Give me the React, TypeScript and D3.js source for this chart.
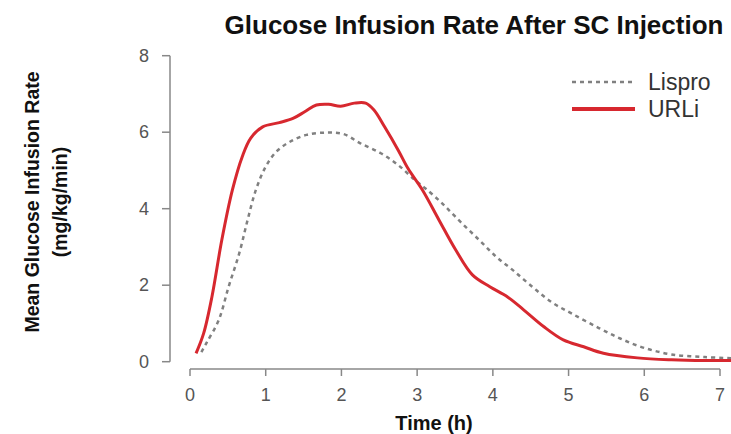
import React, { useEffect, useRef } from 'react';
import * as d3 from 'd3';

// values (time in h, GIR in mg/kg/min)
const urliTime = [0.08, 0.18, 0.29, 0.42, 0.56, 0.69, 0.8, 0.96, 1.18, 1.36, 1.52, 1.67, 1.83, 1.99, 2.17, 2.32, 2.43, 2.57, 2.75, 2.88, 3.07, 3.29, 3.51, 3.73, 3.96, 4.19, 4.41, 4.67, 4.93, 5.2, 5.46, 5.91, 6.36, 6.8, 7.2];
const urliRate = [0.22, 0.74, 1.7, 3.18, 4.49, 5.36, 5.84, 6.14, 6.25, 6.36, 6.54, 6.71, 6.73, 6.68, 6.76, 6.76, 6.58, 6.14, 5.53, 5.05, 4.49, 3.7, 2.92, 2.27, 1.96, 1.7, 1.35, 0.92, 0.57, 0.39, 0.22, 0.1, 0.05, 0.03, 0.03];

const lisproTime = [0.15, 0.22, 0.38, 0.51, 0.65, 0.76, 0.87, 1.0, 1.14, 1.32, 1.54, 1.81, 2.03, 2.25, 2.52, 2.75, 2.97, 3.11, 3.33, 3.57, 3.82, 4.04, 4.26, 4.52, 4.78, 5.05, 5.4, 5.69, 6.0, 6.36, 6.8, 7.2];
const lisproRate = [0.25, 0.5, 1.09, 1.96, 2.83, 3.7, 4.49, 5.1, 5.49, 5.75, 5.93, 5.99, 5.95, 5.71, 5.45, 5.14, 4.75, 4.53, 4.14, 3.66, 3.18, 2.75, 2.4, 1.96, 1.55, 1.25, 0.88, 0.6, 0.36, 0.19, 0.12, 0.09];

const xTicks = [0, 1, 2, 3, 4, 5, 6, 7];
const yTicks = [0, 2, 4, 6, 8];
const seriesNames = ['Lispro', 'URLi'];

const RED = '#d7282f';
const GREY = '#808080';
const FONT = '"Liberation Sans", Arial, sans-serif';

const GirChart = () => {
  const ref = useRef<SVGSVGElement>(null);

  useEffect(() => {
    const svg = d3.select(ref.current);
    svg.selectAll('*').remove();

    const x = d3.scaleLinear().domain([0, 7]).range([190, 720]);
    const y = d3.scaleLinear().domain([0, 8]).range([361.7, 55.7]);

    // title
    svg.append('text')
      .attr('x', 474).attr('y', 34)
      .attr('text-anchor', 'middle')
      .attr('font-family', FONT).attr('font-weight', 'bold').attr('font-size', 26)
      .attr('fill', '#111')
      .text('Glucose Infusion Rate After SC Injection');

    // y axis (R style, detached)
    const yAxis = svg.append('g').attr('stroke', '#888').attr('stroke-width', 1.5);
    yAxis.append('line').attr('x1', 170).attr('x2', 170).attr('y1', y(0)).attr('y2', y(8));
    yAxis.selectAll('line.tick').data(yTicks).enter().append('line')
      .attr('x1', 162).attr('x2', 170).attr('y1', d => y(d)).attr('y2', d => y(d));
    svg.selectAll('text.ytick').data(yTicks).enter().append('text')
      .attr('x', 149).attr('y', d => y(d) + 6)
      .attr('text-anchor', 'end')
      .attr('font-family', FONT).attr('font-size', 18).attr('fill', '#555')
      .text(d => d);

    // x axis
    const xAxis = svg.append('g').attr('stroke', '#888').attr('stroke-width', 1.5);
    xAxis.append('line').attr('x1', x(0)).attr('x2', x(7)).attr('y1', 369).attr('y2', 369);
    xAxis.selectAll('line.tick').data(xTicks).enter().append('line')
      .attr('x1', d => x(d)).attr('x2', d => x(d)).attr('y1', 369).attr('y2', 376);
    svg.selectAll('text.xtick').data(xTicks).enter().append('text')
      .attr('x', d => x(d)).attr('y', 401)
      .attr('text-anchor', 'middle')
      .attr('font-family', FONT).attr('font-size', 18).attr('fill', '#555')
      .text(d => d);

    // axis titles
    svg.append('text')
      .attr('x', 434).attr('y', 430)
      .attr('text-anchor', 'middle')
      .attr('font-family', FONT).attr('font-weight', 'bold').attr('font-size', 20)
      .attr('fill', '#111')
      .text('Time (h)');
    const yl = svg.append('g').attr('transform', 'translate(0,202) rotate(-90)')
      .attr('font-family', FONT).attr('font-weight', 'bold').attr('font-size', 19.5)
      .attr('fill', '#111').attr('text-anchor', 'middle');
    yl.append('text').attr('x', 0).attr('y', 39).text('Mean Glucose Infusion Rate');
    yl.append('text').attr('x', 0).attr('y', 67).text('(mg/kg/min)');

    const line = d3.line<[number, number]>()
      .x(d => x(d[0]))
      .y(d => y(d[1]))
      .curve(d3.curveCatmullRom.alpha(0.5));

    const lispro = lisproTime.map((t, i) => [t, lisproRate[i]] as [number, number]);
    const urli = urliTime.map((t, i) => [t, urliRate[i]] as [number, number]);

    svg.append('path')
      .datum(lispro)
      .attr('fill', 'none')
      .attr('stroke', GREY)
      .attr('stroke-width', 2.5)
      .attr('stroke-dasharray', '4,4')
      .attr('d', line);

    svg.append('path')
      .datum(urli)
      .attr('fill', 'none')
      .attr('stroke', RED)
      .attr('stroke-width', 3)
      .attr('d', line);

    // legend
    const leg = svg.append('g');
    seriesNames.forEach((name, i) => {
      const ly = 82 + i * 27;
      leg.append('line')
        .attr('x1', 572).attr('x2', 635).attr('y1', ly).attr('y2', ly)
        .attr('stroke', i === 0 ? GREY : RED)
        .attr('stroke-width', i === 0 ? 2.5 : 4)
        .attr('stroke-dasharray', i === 0 ? '4,4' : null);
      leg.append('text')
        .attr('x', 648).attr('y', ly + 8)
        .attr('font-family', FONT).attr('font-size', 23).attr('fill', '#333')
        .text(name);
    });
  }, []);

  return <svg ref={ref} width={731} height={434} style={{ position: 'absolute', left: 0, top: 0, background: '#fff' }}></svg>;
};

export default function App() {
  return <GirChart />;
}
